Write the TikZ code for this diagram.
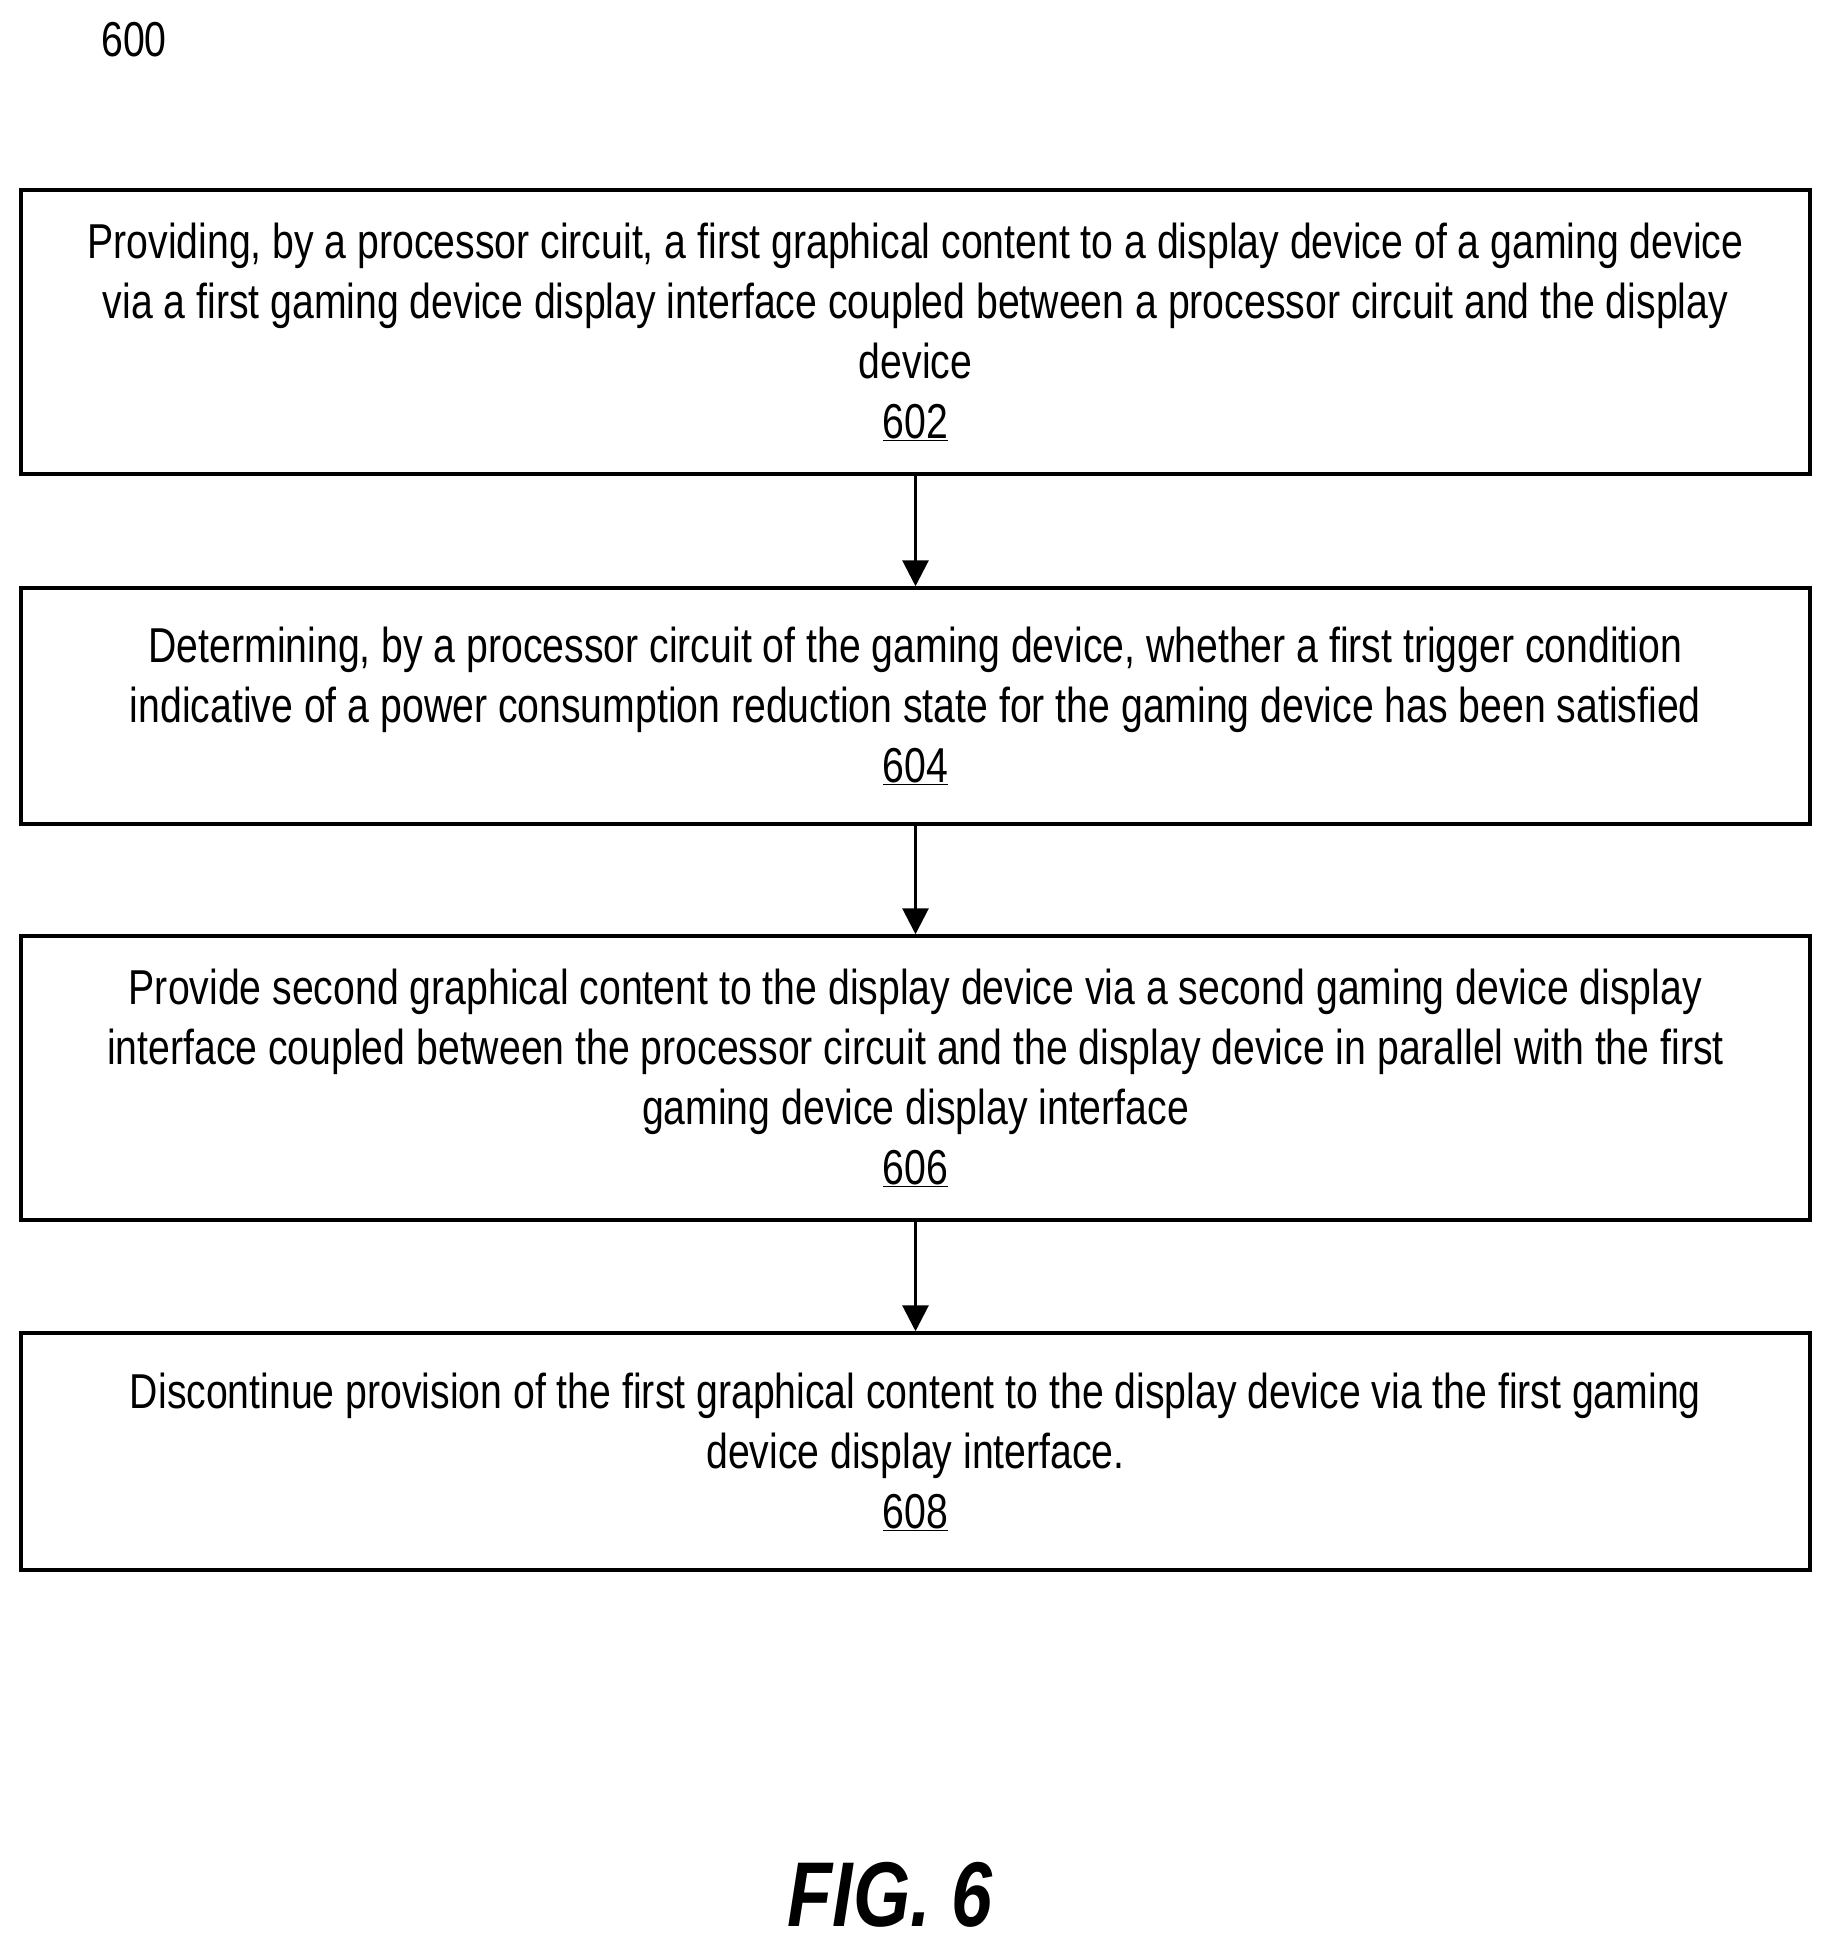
\documentclass[tikz,border=0pt]{standalone}
\usepackage{fontspec}
\setmainfont[FakeStretch=0.8]{Liberation Sans}
\usetikzlibrary{arrows.meta}
\begin{document}
\begin{tikzpicture}[x=1pt,y=-1pt,
  stepbox/.style={draw,line width=3.5pt,minimum width=1789pt,align=center,font=\fontsize{49}{60}\selectfont,inner sep=0pt},
  conn/.style={line width=3pt,-{Triangle[length=26pt,width=26pt]}}]
\useasboundingbox (0,0) rectangle (1830,1949);
\node[font=\fontsize{49}{60}\selectfont] (lab) at (134,40) {600};
\node[stepbox,minimum height=284pt] (b1) at (915.5,332) {Providing, by a processor circuit, a first graphical content to a display device of a gaming device\\via a first gaming device display interface coupled between a processor circuit and the display\\device\\\underline{602}};
\node[stepbox,minimum height=236pt] (b2) at (915.5,706) {Determining, by a processor circuit of the gaming device, whether a first trigger condition\\indicative of a power consumption reduction state for the gaming device has been satisfied\\\underline{604}};
\node[stepbox,minimum height=284pt] (b3) at (915.5,1078) {Provide second graphical content to the display device via a second gaming device display\\interface coupled between the processor circuit and the display device in parallel with the first\\gaming device display interface\\\underline{606}};
\node[stepbox,minimum height=237pt] (b4) at (915.5,1451.5) {Discontinue provision of the first graphical content to the display device via the first gaming\\device display interface.\\\underline{608}};
\draw[conn] (b1) -- (b2);
\draw[conn] (b2) -- (b3);
\draw[conn] (b3) -- (b4);
\node[font=\fontsize{92}{100}\selectfont\itshape\bfseries] (fig) at (890,1895) {FIG. 6};
\end{tikzpicture}
\end{document}
